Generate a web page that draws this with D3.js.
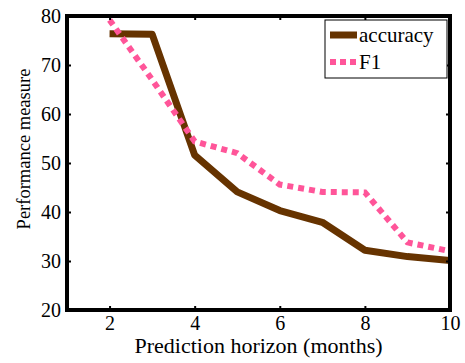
<!DOCTYPE html>
<meta charset="utf-8">
<style>
body { margin: 0; background: white; }
.axis path, .axis line { stroke: #000; }
</style>
<svg></svg>
<script src="https://cdn.jsdelivr.net/npm/d3@7"></script>
<script>

var width = 465;
var height = 363;

// data
var horizon = [2, 3, 4, 5, 6, 7, 8, 9, 10];
var accuracy = [76.4, 76.3, 51.6, 44.1, 40.3, 37.9, 32.2, 30.9, 30.1];
var f1 = [79.2, 67, 54.4, 52.0, 45.6, 44.1, 44.0, 33.8, 32.0];
var xTicks = [2, 4, 6, 8, 10];
var yTicks = [20, 30, 40, 50, 60, 70, 80];

var mLeft = 67, mRight = 450, mTop = 16, mBottom = 310;
var serif = 'Liberation Serif, DejaVu Serif, Times New Roman, serif';

var x = d3.scaleLinear().domain([1, 10]).range([mLeft, mRight]);
var y = d3.scaleLinear().domain([20, 80]).range([mBottom, mTop]);

var svg = d3.select('svg')
  .attr('width', width)
  .attr('height', height);

var line = d3.line()
  .x(function (d) { return x(d[0]); })
  .y(function (d) { return y(d[1]); });

svg.append('defs').append('clipPath').attr('id', 'clip')
  .append('rect')
  .attr('x', mLeft).attr('y', mTop)
  .attr('width', mRight - mLeft).attr('height', mBottom - mTop);

var plot = svg.append('g').attr('clip-path', 'url(#clip)');

plot.append('path')
  .datum(d3.zip(horizon, accuracy))
  .attr('d', line)
  .attr('fill', 'none')
  .attr('stroke', '#663300')
  .attr('stroke-width', 7)
  .attr('stroke-linejoin', 'round');

plot.append('path')
  .datum(d3.zip(horizon, f1))
  .attr('d', line)
  .attr('fill', 'none')
  .attr('stroke', '#ff5599')
  .attr('stroke-width', 6)
  .attr('stroke-dasharray', '6 5');

// axes (ticks point inward)
var xAxis = svg.append('g').attr('class', 'axis')
  .attr('transform', 'translate(0,' + mBottom + ')')
  .call(d3.axisBottom(x).tickValues(xTicks).tickSize(-4).tickPadding(6));

svg.append('g').attr('class', 'axis')
  .attr('transform', 'translate(0,' + mTop + ')')
  .call(d3.axisTop(x).tickValues(xTicks).tickSize(-4).tickFormat(''));

var yAxis = svg.append('g').attr('class', 'axis')
  .attr('transform', 'translate(' + mLeft + ',0)')
  .call(d3.axisLeft(y).tickValues(yTicks).tickSize(-4).tickPadding(6));

svg.append('g').attr('class', 'axis')
  .attr('transform', 'translate(' + mRight + ',0)')
  .call(d3.axisRight(y).tickValues(yTicks).tickSize(-4).tickFormat(''));

svg.selectAll('.axis')
  .attr('font-family', serif)
  .attr('font-size', 20);
xAxis.selectAll('.tick text').attr('dy', '0.71em');
yAxis.selectAll('.tick text').attr('dy', '0.32em');
svg.selectAll('.axis .domain').remove();
svg.selectAll('.axis .tick line').attr('stroke-width', 2);

// frame
svg.append('rect')
  .attr('x', mLeft).attr('y', mTop)
  .attr('width', mRight - mLeft).attr('height', mBottom - mTop)
  .attr('fill', 'none')
  .attr('stroke', '#000')
  .attr('stroke-width', 4);

// axis labels
svg.append('text')
  .attr('x', (mLeft + mRight) / 2)
  .attr('y', 353)
  .attr('text-anchor', 'middle')
  .attr('font-family', serif)
  .attr('font-size', 22)
  .text('Prediction horizon (months)');

svg.append('text')
  .attr('transform', 'translate(30,149) rotate(-90)')
  .attr('text-anchor', 'middle')
  .attr('font-family', serif)
  .attr('font-size', 18.5)
  .text('Performance measure');

// legend
var legend = svg.append('g');
legend.append('rect')
  .attr('x', 325).attr('y', 20)
  .attr('width', 122).attr('height', 58)
  .attr('fill', '#fff')
  .attr('stroke', '#000')
  .attr('stroke-width', 1);

var entries = [
  { name: 'accuracy', color: '#663300', dash: null, w: 7 },
  { name: 'F1', color: '#ff5599', dash: '6 4', w: 6 }
];

entries.forEach(function (d, i) {
  var ly = 35 + i * 27;
  legend.append('line')
    .attr('x1', 330).attr('x2', 357)
    .attr('y1', ly).attr('y2', ly)
    .attr('stroke', d.color)
    .attr('stroke-width', d.w)
    .attr('stroke-dasharray', d.dash);
  legend.append('text')
    .attr('x', 359).attr('y', ly)
    .attr('dy', '0.32em')
    .attr('font-family', serif)
    .attr('font-size', 21)
    .text(d.name);
});

</script>
